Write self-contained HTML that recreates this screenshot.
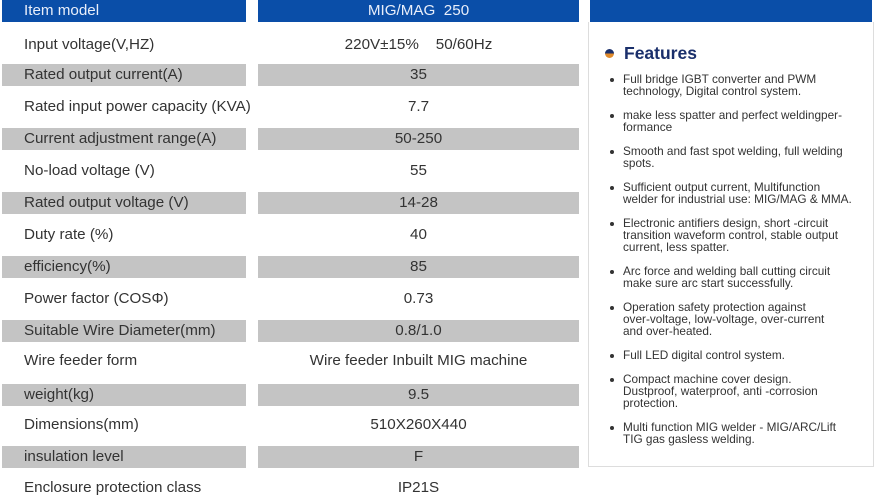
<!DOCTYPE html>
<html><head><style>
body{margin:0;width:874px;height:495px;background:#fff;position:relative;overflow:hidden;font-family:"Liberation Sans",sans-serif;}
.c{position:absolute;height:22px;line-height:22px;font-size:15.2px;color:#333;white-space:nowrap;}
.l{left:2px;width:222px;padding-left:22px;}
.m{left:258px;width:321px;text-align:center;}
.g{background:#c4c4c4;}
.h{background:#0a4ea8;color:#e8eefa;}
.box{position:absolute;left:588px;top:22px;width:284px;height:444px;border:1px solid #ddd;border-top:none;}
.ft{position:absolute;left:624px;top:43px;font-size:17.5px;font-weight:bold;color:#1a2f6b;}
.dot{position:absolute;left:605px;top:49px;width:9px;height:9px;border-radius:50%;background:linear-gradient(#1a2f6b 50%,#e08a2a 50%);}
.it{position:absolute;left:623px;font-size:11.8px;line-height:11.8px;color:#333;width:250px;white-space:nowrap;}
.it:before{content:"";position:absolute;left:-13px;top:4px;width:4px;height:4px;border-radius:50%;background:#333;}
</style></head><body>
<div class="c l h" style="top:0">Item model</div><div class="c m h" style="top:0">MIG/MAG&nbsp;&nbsp;250</div>
<div class="c l" style="top:34px">Input voltage(V,HZ)</div><div class="c m" style="top:34px">220V±15%&nbsp;&nbsp;&nbsp;&nbsp;50/60Hz</div>
<div class="c l g" style="top:64px">Rated output current(A)</div><div class="c m g" style="top:64px">35</div>
<div class="c l" style="top:96px">Rated input power capacity (KVA)</div><div class="c m" style="top:96px">7.7</div>
<div class="c l g" style="top:128px">Current adjustment range(A)</div><div class="c m g" style="top:128px">50-250</div>
<div class="c l" style="top:160px">No-load voltage (V)</div><div class="c m" style="top:160px">55</div>
<div class="c l g" style="top:192px">Rated output voltage (V)</div><div class="c m g" style="top:192px">14-28</div>
<div class="c l" style="top:224px">Duty rate (%)</div><div class="c m" style="top:224px">40</div>
<div class="c l g" style="top:256px">efficiency(%)</div><div class="c m g" style="top:256px">85</div>
<div class="c l" style="top:288px">Power factor (COSΦ)</div><div class="c m" style="top:288px">0.73</div>
<div class="c l g" style="top:320px">Suitable Wire Diameter(mm)</div><div class="c m g" style="top:320px">0.8/1.0</div>
<div class="c l" style="top:350px">Wire feeder form</div><div class="c m" style="top:350px">Wire feeder Inbuilt MIG machine</div>
<div class="c l g" style="top:384px">weight(kg)</div><div class="c m g" style="top:384px">9.5</div>
<div class="c l" style="top:414px">Dimensions(mm)</div><div class="c m" style="top:414px">510X260X440</div>
<div class="c l g" style="top:446px">insulation level</div><div class="c m g" style="top:446px">F</div>
<div class="c l" style="top:477px">Enclosure protection class</div><div class="c m" style="top:477px">IP21S</div>
<div style="position:absolute;left:590px;top:0;width:282px;height:22px;background:#0a4ea8"></div>
<div class="box"></div>
<div class="dot"></div><div class="ft">Features</div>
<div class="it" style="top:74px">Full bridge IGBT converter and PWM<br>technology, Digital control system.</div>
<div class="it" style="top:110px">make less spatter and perfect weldingper-<br>formance</div>
<div class="it" style="top:146px">Smooth and fast spot welding, full welding<br>spots.</div>
<div class="it" style="top:182px">Sufficient output current, Multifunction<br>welder for industrial use: MIG/MAG &amp; MMA.</div>
<div class="it" style="top:218px">Electronic antifiers design, short -circuit<br>transition waveform control, stable output<br>current, less spatter.</div>
<div class="it" style="top:266px">Arc force and welding ball cutting circuit<br>make sure arc start successfully.</div>
<div class="it" style="top:302px">Operation safety protection against<br>over-voltage, low-voltage, over-current<br>and over-heated.</div>
<div class="it" style="top:350px">Full LED digital control system.</div>
<div class="it" style="top:374px">Compact machine cover design.<br>Dustproof, waterproof, anti -corrosion<br>protection.</div>
<div class="it" style="top:422px">Multi function MIG welder - MIG/ARC/Lift<br>TIG gas gasless welding.</div>
</body></html>
